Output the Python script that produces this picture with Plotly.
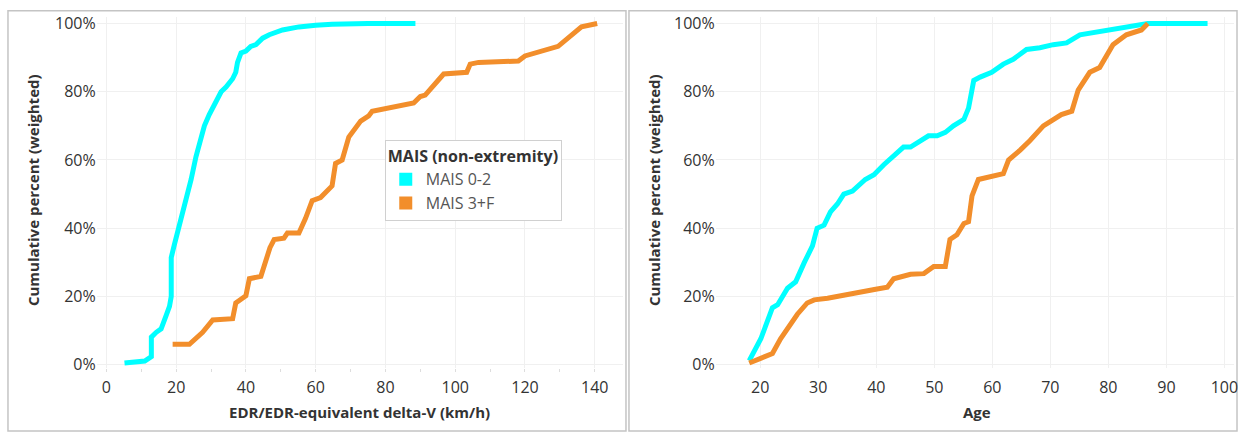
import plotly.graph_objects as go

# ---- data ----
dv_low = [5.2, 11.0, 12.9, 12.9, 14.3, 15.7, 17.1, 18.1, 18.6, 18.6, 19.5, 20.5, 21.4, 22.4, 24.3, 25.7,
          27.1, 28.1, 29.5, 30.9, 32.9, 34.3, 36.2, 37.1, 37.6, 38.6, 40.0, 41.4, 42.9, 44.8, 46.7, 50.5,
          55.2, 60.0, 64.7, 75.0, 88.6]
pct_dv_low = [0.5, 1.1, 2.4, 8.1, 9.5, 10.5, 14.3, 17.1, 20.0, 31.4, 35.2, 39.0, 42.4, 46.2, 54.3, 61.0,
              65.7, 70.0, 73.3, 76.2, 80.0, 81.4, 83.8, 85.7, 88.6, 91.4, 91.9, 93.3, 93.8, 95.7, 96.7, 98.1,
              99.0, 99.5, 99.8, 100.0, 100.0]

dv_high = [19.0, 23.8, 27.6, 30.5, 36.2, 37.1, 40.0, 41.0, 44.3, 45.7, 46.9, 48.1, 50.9, 51.9, 55.2, 57.1,
           59.0, 61.4, 64.7, 65.7, 67.6, 69.5, 72.9, 75.2, 76.2, 88.1, 90.0, 91.4, 96.7, 103.3, 104.3, 106.7,
           118.1, 120.0, 129.5, 136.2, 140.7]
pct_dv_high = [6.0, 6.0, 9.5, 13.1, 13.5, 18.1, 20.2, 25.2, 25.9, 30.0, 34.3, 36.7, 37.1, 38.6, 38.6, 42.9,
               48.1, 49.0, 52.4, 59.0, 60.0, 66.7, 71.4, 72.9, 74.3, 76.7, 78.6, 79.0, 85.2, 85.7, 88.1, 88.6,
               89.0, 90.5, 93.3, 99.0, 100.0]

age_low = [18.1, 20.1, 22.1, 23.0, 24.7, 26.1, 27.6, 29.0, 29.8, 31.0, 32.1, 33.3, 34.4, 35.9, 38.1, 39.6,
           41.3, 43.3, 44.7, 45.9, 47.6, 49.0, 50.5, 51.9, 53.3, 55.1, 55.9, 56.8, 57.9, 59.9, 61.9, 63.6,
           65.9, 68.2, 70.5, 72.8, 75.1, 79.7, 83.1, 86.8, 97.1]
pct_age_low = [1.2, 7.6, 16.7, 17.6, 22.4, 24.3, 30.0, 34.8, 40.0, 40.9, 44.8, 47.1, 50.0, 50.9, 54.3, 55.7,
               58.6, 61.9, 63.8, 63.8, 65.7, 67.1, 67.1, 68.1, 70.0, 71.9, 75.2, 83.3, 84.3, 85.7, 88.1, 89.5,
               92.4, 92.9, 93.8, 94.3, 96.7, 98.1, 99.0, 100.0, 100.0]

age_high = [18.1, 22.1, 23.5, 25.3, 26.4, 28.1, 29.3, 31.6, 34.4, 37.3, 39.9, 41.9, 43.0, 45.9, 48.2, 49.9,
            51.9, 52.7, 53.9, 55.1, 55.9, 56.5, 57.6, 61.9, 62.8, 64.8, 66.5, 68.8, 71.9, 73.7, 74.8, 76.8,
            78.5, 80.8, 83.1, 85.7, 86.8]
pct_age_high = [0.5, 3.3, 7.6, 12.4, 14.8, 18.1, 19.0, 19.5, 20.5, 21.4, 22.1, 22.7, 25.2, 26.5, 26.7, 28.8,
                28.8, 36.7, 38.1, 41.4, 41.9, 49.5, 54.3, 56.0, 60.0, 62.9, 65.7, 70.0, 73.3, 74.3, 80.5, 85.7,
                87.1, 93.8, 96.7, 98.1, 100.0]

series_names = ["MAIS 0-2", "MAIS 3+F"]
series_colors = ["#00FFFF", "#F28E2B"]
legend_title = "MAIS (non-extremity)"
y_title = "Cumulative percent (weighted)"
x_titles = ["EDR/EDR-equivalent delta-V (km/h)", "Age"]

W, H = 1243, 439
FONT = "Open Sans"
TXT = "#333333"

fig = go.Figure()

def line(x, y, color, xa, ya):
    fig.add_trace(go.Scatter(x=x, y=y, mode="lines", line=dict(color=color, width=5),
                             xaxis=xa, yaxis=ya, showlegend=False, hoverinfo="x+y"))

line(dv_low, pct_dv_low, series_colors[0], "x", "y")
line(dv_high, pct_dv_high, series_colors[1], "x", "y")
line(age_low, pct_age_low, series_colors[0], "x2", "y2")
line(age_high, pct_age_high, series_colors[1], "x2", "y2")

# legend entries (square swatches)
for name, col in zip(series_names, series_colors):
    fig.add_trace(go.Scatter(x=[None], y=[None], mode="markers", name=name,
                             marker=dict(symbol="square", size=13, color=col),
                             xaxis="x", yaxis="y", showlegend=True))

def px_x(p):
    return p / W

def px_y(p):
    return 1 - p / H

grid = "#f0f0f0"
ydom = [px_y(373.5), px_y(13)]
TICKFONT = dict(family=FONT, size=16, color=TXT)
common_y = dict(range=[-1, 102], tickvals=[0, 20, 40, 60, 80, 100],
                ticktext=["0%", "20%", "40%", "60%", "80%", "100%"],
                showgrid=True, gridcolor=grid, gridwidth=1, zeroline=False,
                showline=False, ticks="", tickfont=TICKFONT,
                domain=ydom, fixedrange=True)

fig.update_layout(
    width=W, height=H,
    margin=dict(l=0, r=0, t=0, b=0),
    paper_bgcolor="white", plot_bgcolor="white",
    font=dict(family=FONT, color=TXT),
    xaxis=dict(domain=[px_x(97), px_x(625)], range=[-2.77, 148.1],
               tickvals=[0, 20, 40, 60, 80, 100, 120, 140],
               showgrid=True, gridcolor=grid, zeroline=False, showline=False,
               ticks="outside", ticklen=5, tickcolor="rgba(0,0,0,0)",
               minor=dict(dtick=10, ticks="outside", ticklen=3, tickcolor="#dddddd", showgrid=False),
               tickfont=TICKFONT, anchor="y"),
    yaxis=dict(**common_y, anchor="x"),
    xaxis2=dict(domain=[px_x(718), px_x(1238)], range=[12.32, 101.66],
                tickvals=[20, 30, 40, 50, 60, 70, 80, 90, 100],
                showgrid=True, gridcolor=grid, zeroline=False, showline=False,
                ticks="outside", ticklen=5, tickcolor="rgba(0,0,0,0)",
                tickfont=TICKFONT, anchor="y2"),
    yaxis2=dict(**common_y, anchor="x2"),
    legend=dict(x=px_x(386), y=px_y(140), xanchor="left", yanchor="top",
                bgcolor="white", bordercolor="#d0d0d0", borderwidth=1,
                title=dict(text="<b>" + legend_title + "</b>", font=dict(family=FONT, size=16, color=TXT)),
                font=dict(family=FONT, size=16, color="#555555"),
                itemwidth=30, tracegroupgap=0),
    shapes=[
        dict(type="rect", xref="paper", yref="paper", x0=px_x(8), x1=px_x(628), y0=px_y(438), y1=px_y(7),
             line=dict(color="#c4c4c4", width=1.5), fillcolor="rgba(0,0,0,0)", layer="below"),
        dict(type="rect", xref="paper", yref="paper", x0=px_x(631), x1=px_x(1241), y0=px_y(438), y1=px_y(7),
             line=dict(color="#c4c4c4", width=1.5), fillcolor="rgba(0,0,0,0)", layer="below"),
    ],
    annotations=[
        dict(text="<b>" + y_title + "</b>", xref="paper", yref="paper", x=px_x(33), y=px_y(191),
             xanchor="center", yanchor="middle",
             textangle=-90, showarrow=False, font=dict(family=FONT, size=15, color=TXT)),
        dict(text="<b>" + y_title + "</b>", xref="paper", yref="paper", x=px_x(656), y=px_y(191),
             xanchor="center", yanchor="middle",
             textangle=-90, showarrow=False, font=dict(family=FONT, size=15, color=TXT)),
        dict(text="<b>" + x_titles[0] + "</b>", xref="paper", yref="paper", x=px_x(361), y=px_y(418),
             xanchor="center", yanchor="middle",
             showarrow=False, font=dict(family=FONT, size=15, color=TXT)),
        dict(text="<b>" + x_titles[1] + "</b>", xref="paper", yref="paper", x=px_x(980), y=px_y(418),
             xanchor="center", yanchor="middle",
             showarrow=False, font=dict(family=FONT, size=15, color=TXT)),
    ],
)

fig.write_html("out.html")
